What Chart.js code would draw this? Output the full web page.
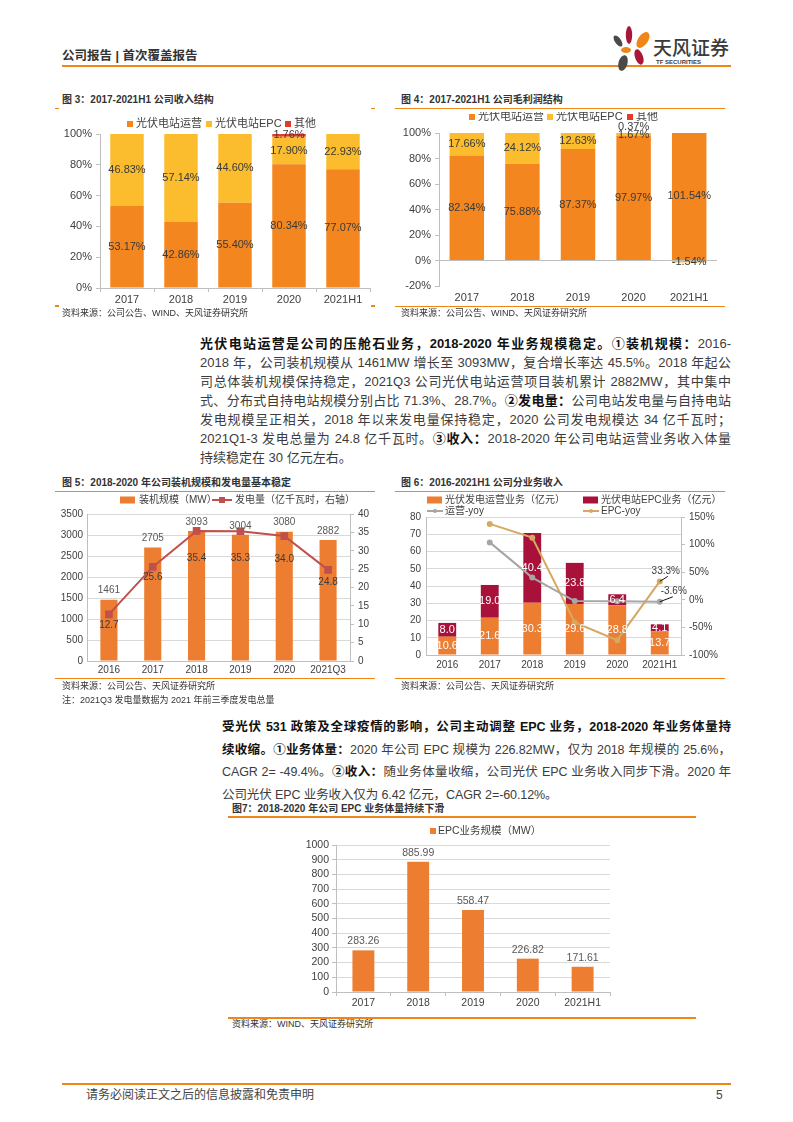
<!DOCTYPE html>
<html><head><meta charset="utf-8">
<script src="https://cdn.jsdelivr.net/npm/chart.js@4.4.1/dist/chart.umd.min.js"></script>
<style>
body{margin:0;background:#fff;width:793px;height:1122px;position:relative;overflow:hidden;font-family:"Liberation Sans","Noto Sans CJK SC",sans-serif;color:#333;}
.hl{position:absolute;background:#F08519;height:2px;}
.hl1{position:absolute;background:#F08519;height:1.5px;}
.ttl{position:absolute;font-size:10px;font-weight:bold;color:#333;white-space:nowrap;line-height:12px;}
.src{position:absolute;font-size:9px;color:#333;white-space:nowrap;line-height:11px;}
.ln{position:absolute;font-size:13px;line-height:19px;height:19px;text-align:justify;text-align-last:justify;color:#3c3c3c;overflow:visible;}
.ln2{font-size:12.5px;letter-spacing:-0.1px;}
.ln b{color:#111;}
canvas{position:absolute;}
</style></head>
<body>
<!-- header -->
<div style="position:absolute;left:62px;top:48px;font-size:12.5px;font-weight:bold;color:#333;line-height:16px;">公司报告 | 首次覆盖报告</div>
<div class="hl" style="left:62px;top:65px;width:669px;"></div>
<svg style="position:absolute;left:605px;top:20px" width="60" height="55" viewBox="0 0 60 55">
  <ellipse cx="24" cy="15" rx="3.2" ry="9" fill="#A8163A"/>
  <ellipse cx="38" cy="20" rx="5" ry="9" fill="#F08519" transform="rotate(35 38 20)"/>
  <ellipse cx="13" cy="21" rx="3" ry="6.5" fill="#4a4a4a" transform="rotate(-35 13 21)"/>
  <ellipse cx="21" cy="30" rx="5" ry="3" fill="#F08519"/>
  <ellipse cx="34" cy="37" rx="4" ry="8" fill="#A8163A" transform="rotate(-20 34 37)"/>
  <ellipse cx="18" cy="43" rx="4.5" ry="8" fill="#4a4a4a" transform="rotate(15 18 43)"/>
</svg>
<div style="position:absolute;left:653px;top:36px;font-size:19px;color:#3a3a3a;line-height:22px;font-family:'Noto Sans CJK SC';font-weight:500;">天风证券</div>
<div style="position:absolute;left:656px;top:58px;font-size:6px;font-weight:bold;color:#3a3a3a;line-height:8px;">TF SECURITIES</div>

<!-- chart 3 / 4 titles -->
<div class="ttl" style="left:62px;top:94px;">图 3：2017-2021H1 公司收入结构</div>
<div class="hl1" style="left:55px;top:107.5px;width:4px;"></div>
<div class="hl1" style="left:371px;top:107.5px;width:4px;"></div>
<div class="ttl" style="left:401px;top:94px;">图 4：2017-2021H1 公司毛利润结构</div>
<div class="hl1" style="left:395px;top:107.5px;width:330px;"></div>

<canvas id="c3" width="325" height="200" style="left:55px;top:112px;"></canvas>
<canvas id="c4" width="335" height="200" style="left:395px;top:112px;"></canvas>

<div class="hl1" style="left:55px;top:305px;width:4px;"></div>
<div class="hl1" style="left:371px;top:305px;width:4px;"></div>
<div class="hl1" style="left:395px;top:305.5px;width:330px;"></div>
<div class="src" style="left:62px;top:308px;">资料来源：公司公告、WIND、天风证券研究所</div>
<div class="src" style="left:401px;top:308px;">资料来源：公司公告、WIND、天风证券研究所</div>

<!-- paragraph 1 -->
<div class="ln" style="left:200px;top:333.5px;width:531px;"><b>光伏电站运营是公司的压舱石业务，2018-2020 年业务规模稳定。①装机规模：</b>2016-</div>
<div class="ln" style="left:200px;top:352.5px;width:531px;">2018 年，公司装机规模从 1461MW 增长至 3093MW，复合增长率达 45.5%。2018 年起公</div>
<div class="ln" style="left:200px;top:371.5px;width:531px;">司总体装机规模保持稳定，2021Q3 公司光伏电站运营项目装机累计 2882MW，其中集中</div>
<div class="ln" style="left:200px;top:390.5px;width:531px;">式、分布式自持电站规模分别占比 71.3%、28.7%。<b>②发电量：</b>公司电站发电量与自持电站</div>
<div class="ln" style="left:200px;top:409.5px;width:531px;">发电规模呈正相关，2018 年以来发电量保持稳定，2020 公司发电规模达 34 亿千瓦时；</div>
<div class="ln" style="left:200px;top:428.5px;width:531px;">2021Q1-3 发电总量为 24.8 亿千瓦时。<b>③收入：</b>2018-2020 年公司电站运营业务收入体量</div>
<div class="ln" style="left:200px;top:447.5px;width:531px;text-align-last:left;">持续稳定在 30 亿元左右。</div>

<!-- chart 5 / 6 -->
<div class="ttl" style="left:62px;top:477px;">图 5：2018-2020 年公司装机规模和发电量基本稳定</div>
<div class="hl1" style="left:55px;top:490.5px;width:320px;"></div>
<div class="ttl" style="left:401px;top:477px;">图 6：2016-2021H1 公司分业务收入</div>
<div class="hl1" style="left:395px;top:490.5px;width:330px;"></div>
<canvas id="c5" width="325" height="190" style="left:55px;top:492px;"></canvas>
<canvas id="c6" width="340" height="190" style="left:395px;top:492px;"></canvas>
<div class="hl1" style="left:55px;top:677.5px;width:320px;"></div>
<div class="hl1" style="left:395px;top:677.5px;width:330px;"></div>
<div class="src" style="left:62px;top:681px;">资料来源：公司公告、天风证券研究所</div>
<div class="src" style="left:62px;top:695px;">注：2021Q3 发电量数据为 2021 年前三季度发电总量</div>
<div class="src" style="left:401px;top:681px;">资料来源：公司公告、天风证券研究所</div>

<!-- paragraph 2 -->
<div class="ln ln2" style="left:222px;top:717.5px;width:509px;"><b>受光伏 531 政策及全球疫情的影响，公司主动调整 EPC 业务，2018-2020 年业务体量持</b></div>
<div class="ln ln2" style="left:222px;top:740.5px;width:509px;"><b>续收缩。①业务体量：</b>2020 年公司 EPC 规模为 226.82MW，仅为 2018 年规模的 25.6%，</div>
<div class="ln ln2" style="left:222px;top:762.5px;width:509px;">CAGR 2= -49.4%。<b>②收入：</b>随业务体量收缩，公司光伏 EPC 业务收入同步下滑。2020 年</div>
<div class="ln ln2" style="left:222px;top:785.5px;width:509px;text-align-last:left;">公司光伏 EPC 业务收入仅为 6.42 亿元，CAGR 2=-60.12%。</div>

<!-- chart 7 -->
<div class="ttl" style="left:232px;top:803px;">图7：2018-2020 年公司 EPC 业务体量持续下滑</div>
<div class="hl1" style="left:228px;top:816px;width:468px;"></div>
<canvas id="c7" width="400" height="195" style="left:228px;top:822px;"></canvas>
<div class="hl1" style="left:228px;top:1017px;width:468px;"></div>
<div class="src" style="left:232px;top:1019px;">资料来源：WIND、天风证券研究所</div>

<!-- footer -->
<div class="hl" style="left:62px;top:1083px;width:669px;"></div>
<div style="position:absolute;left:86px;top:1088px;font-size:12px;color:#444;line-height:15px;">请务必阅读正文之后的信息披露和免责申明</div>
<div style="position:absolute;left:716px;top:1088px;font-size:12px;color:#444;line-height:15px;">5</div>

<script>
// ---------------- data ----------------
const cats3 = ['2017','2018','2019','2020','2021H1'];
const rev_ops = [53.17, 42.86, 55.40, 80.34, 77.07];
const rev_epc = [46.83, 57.14, 44.60, 17.90, 22.93];
const rev_other = [0, 0, 0, 1.76, 0];

const cats4 = ['2017','2018','2019','2020','2021H1'];
const gp_ops = [82.34, 75.88, 87.37, 97.97, 101.54];
const gp_epc = [17.66, 24.12, 12.63, 1.67, -1.54];
const gp_other = [0, 0, 0, 0.37, 0];

const cats5 = ['2016','2017','2018','2019','2020','2021Q3'];
const capacity_mw = [1461, 2705, 3093, 3004, 3080, 2882];
const generation = [12.7, 25.6, 35.4, 35.3, 34.0, 24.8];

const cats6 = ['2016','2017','2018','2019','2020','2021H1'];
const seg_ops = [10.6, 21.6, 30.3, 29.6, 28.8, 13.7];
const seg_epc = [8.0, 19.0, 40.4, 23.8, 6.4, 4.1];
const ops_yoy = [null, 104.0, 40.3, -2.3, -2.7, -3.6];
const epc_yoy = [null, 137.5, 112.6, -41.1, -73.1, 33.3];

const cats7 = ['2017','2018','2019','2020','2021H1'];
const epc_mw = [283.26, 885.99, 558.47, 226.82, 171.61];

// ---------------- setup ----------------
const FF = '"Liberation Sans","Noto Sans CJK SC",sans-serif';
Chart.defaults.font.family = FF;
Chart.defaults.color = '#404040';
Chart.defaults.animation = false;

const labelPlugin = {
  id: 'valueLabels',
  afterDatasetsDraw(chart, args, opts) {
    const ctx = chart.ctx;
    (opts.items || []).forEach(it => {
      const meta = chart.getDatasetMeta(it.ds);
      const data = chart.data.datasets[it.ds].data;
      meta.data.forEach((el, i) => {
        const v = data[i];
        if (v === null || v === undefined || v === 0) return;
        let y;
        if (it.pos === 'center') y = (el.y + el.base) / 2;
        else if (it.pos === 'above') y = el.y - (it.offset || 8);
        else y = el.y + (Array.isArray(it.offset) ? it.offset[i] : it.offset);
        ctx.save();
        ctx.font = it.font; ctx.fillStyle = it.color;
        ctx.textAlign = 'center'; ctx.textBaseline = 'middle';
        ctx.fillText(it.fmt(v), el.x, y);
        ctx.restore();
      });
    });
    (opts.callouts || []).forEach(c => {
      const el = chart.getDatasetMeta(c.ds).data[c.index];
      const v = chart.data.datasets[c.ds].data[c.index];
      ctx.save();
      ctx.strokeStyle = '#111'; ctx.lineWidth = 1;
      ctx.beginPath(); ctx.moveTo(el.x, el.y); ctx.lineTo(el.x + c.lx, el.y + c.ly); ctx.stroke();
      ctx.font = c.font; ctx.fillStyle = '#404040';
      ctx.textAlign = 'center'; ctx.textBaseline = 'middle';
      ctx.fillText(c.fmt(v), el.x + c.tx, el.y + c.ty);
      ctx.restore();
    });
  }
};

const legendPlugin = {
  id: 'ownLegend',
  afterDraw(chart, args, opts) {
    const ctx = chart.ctx;
    (opts.items || []).forEach(it => {
      const ds = chart.data.datasets[it.ds];
      ctx.save();
      if (it.kind === 'rect') {
        ctx.fillStyle = ds.backgroundColor;
        ctx.fillRect(it.x, it.y - it.h / 2, it.w, it.h);
      } else {
        ctx.strokeStyle = ds.borderColor; ctx.lineWidth = 2;
        ctx.beginPath(); ctx.moveTo(it.x, it.y); ctx.lineTo(it.x + it.w, it.y); ctx.stroke();
        ctx.fillStyle = ds.borderColor;
        const m = it.m || 2.5, cx = it.x + it.w / 2;
        if (it.shape === 'rect') ctx.fillRect(cx - m, it.y - m, 2 * m, 2 * m);
        else { ctx.beginPath(); ctx.arc(cx, it.y, m, 0, Math.PI * 2); ctx.fill(); }
      }
      ctx.font = opts.font; ctx.fillStyle = opts.color || '#404040';
      ctx.textAlign = 'left'; ctx.textBaseline = 'middle';
      ctx.fillText(ds.label, it.tx, it.y);
      ctx.restore();
    });
  }
};

const pct2 = v => v.toFixed(2) + '%';
const fix1 = v => v.toFixed(1);
const plain = v => String(v);
const GRID = '#D9D9D9', AX = '#BFBFBF';

function base(padding) {
  return { responsive: false, devicePixelRatio: 1, animation: false, layout: { padding },
    plugins: { legend: { display: false }, tooltip: { enabled: false } } };
}

// ---------------- chart 3 ----------------
(function () {
  const o = base({ top: 22, right: 10, left: 0, bottom: 0 });
  o.datasets = { bar: { categoryPercentage: 1, barPercentage: 0.62 } };
  o.scales = {
    x: { stacked: true, grid: { display: true, drawOnChartArea: false, tickLength: 4, color: AX }, border: { color: AX },
         ticks: { padding: 1, font: { size: 11 }, color: '#404040' }, afterFit(s) { s.height = 24; } },
    y: { stacked: true, min: 0, max: 100, grid: { drawOnChartArea: false, tickLength: 4, color: AX }, border: { color: AX },
         ticks: { stepSize: 20, autoSkip: false, padding: 4, font: { size: 11 }, color: '#404040', callback: v => v + '%' }, afterFit(s) { s.width = 45; } }
  };
  o.plugins.ownLegend = { font: '11px ' + FF, items: [
    { ds: 0, kind: 'rect', x: 72, y: 12, w: 6, h: 6, tx: 81 },
    { ds: 1, kind: 'rect', x: 151, y: 12, w: 6, h: 6, tx: 160 },
    { ds: 2, kind: 'rect', x: 230, y: 12, w: 6, h: 6, tx: 239 } ] };
  const lf = '11px ' + FF;
  o.plugins.valueLabels = { items: [
    { ds: 0, pos: 'center', font: lf, color: '#3a3a3a', fmt: pct2 },
    { ds: 1, pos: 'center', font: lf, color: '#3a3a3a', fmt: pct2 },
    { ds: 2, pos: 'center', font: lf, color: '#3a3a3a', fmt: pct2 } ] };
  new Chart(document.getElementById('c3'), {
    type: 'bar',
    data: { labels: cats3, datasets: [
      { label: '光伏电站运营', data: rev_ops, backgroundColor: '#F3861F' },
      { label: '光伏电站EPC', data: rev_epc, backgroundColor: '#FBBD2E' },
      { label: '其他', data: rev_other, backgroundColor: '#E03B2B' } ] },
    options: o, plugins: [legendPlugin, labelPlugin]
  });
})();

// ---------------- chart 4 ----------------
(function () {
  const o = base({ top: 21, right: 13, left: 0, bottom: 0 });
  o.datasets = { bar: { categoryPercentage: 1, barPercentage: 0.62 } };
  o.scales = {
    x: { stacked: true, grid: { display: false, drawTicks: false }, border: { display: false },
         ticks: { padding: 5, font: { size: 11 }, color: '#404040' }, afterFit(s) { s.height = 26; } },
    y: { stacked: true, min: -20, max: 100,
         grid: { drawOnChartArea: true, tickLength: 4, tickColor: AX, color: c => c.tick && c.tick.value === 0 ? AX : 'rgba(0,0,0,0)' },
         border: { color: AX },
         ticks: { stepSize: 20, autoSkip: false, padding: 4, font: { size: 11 }, color: '#404040', callback: v => v + '%' }, afterFit(s) { s.width = 44; } }
  };
  o.plugins.ownLegend = { font: '11px ' + FF, items: [
    { ds: 0, kind: 'rect', x: 74, y: 5, w: 6, h: 6, tx: 83 },
    { ds: 1, kind: 'rect', x: 152, y: 5, w: 6, h: 6, tx: 161 },
    { ds: 2, kind: 'rect', x: 232, y: 5, w: 6, h: 6, tx: 241 } ] };
  const lf = '11px ' + FF;
  o.plugins.valueLabels = { items: [
    { ds: 0, pos: 'center', font: lf, color: '#3a3a3a', fmt: pct2 },
    { ds: 1, pos: 'center', font: lf, color: '#3a3a3a', fmt: pct2 },
    { ds: 2, pos: 'above', offset: 6, font: lf, color: '#3a3a3a', fmt: pct2 } ] };
  new Chart(document.getElementById('c4'), {
    type: 'bar',
    data: { labels: cats4, datasets: [
      { label: '光伏电站运营', data: gp_ops, backgroundColor: '#F3861F' },
      { label: '光伏电站EPC', data: gp_epc, backgroundColor: '#FBBD2E' },
      { label: '其他', data: gp_other, backgroundColor: '#E03B2B' } ] },
    options: o, plugins: [legendPlugin, labelPlugin]
  });
})();

// ---------------- chart 5 ----------------
(function () {
  const o = base({ top: 22, right: 0, left: 0, bottom: 0 });
  o.scales = {
    x: { grid: { display: false, drawTicks: false }, border: { color: AX },
         ticks: { padding: 3, font: { size: 10 }, color: '#404040' }, afterFit(s) { s.height = 21; } },
    y: { min: 0, max: 3500, grid: { color: GRID, drawTicks: false }, border: { color: AX },
         ticks: { stepSize: 500, autoSkip: false, padding: 4, font: { size: 10 }, color: '#404040', callback: plain }, afterFit(s) { s.width = 32; } },
    y2: { position: 'right', min: 0, max: 40, grid: { drawOnChartArea: false, tickLength: 4, color: AX }, border: { color: AX },
         ticks: { stepSize: 5, autoSkip: false, padding: 4, font: { size: 10 }, color: '#404040', callback: plain }, afterFit(s) { s.width = 30; } }
  };
  o.plugins.ownLegend = { font: '10px ' + FF, items: [
    { ds: 0, kind: 'rect', x: 65, y: 8, w: 15, h: 7, tx: 84 },
    { ds: 1, kind: 'line', shape: 'rect', m: 3, x: 157, y: 8, w: 20, tx: 180 } ] };
  const lf = '10px ' + FF;
  o.plugins.valueLabels = { items: [
    { ds: 0, pos: 'above', offset: 9, font: lf, color: '#595959', fmt: plain },
    { ds: 1, pos: 'below', offset: [11, 10, 27, 27, 23, 12], font: lf, color: '#3a3a3a', fmt: fix1 } ] };
  new Chart(document.getElementById('c5'), {
    type: 'bar',
    data: { labels: cats5, datasets: [
      { type: 'bar', label: '装机规模（MW）', data: capacity_mw, yAxisID: 'y', backgroundColor: '#ED7D31',
        categoryPercentage: 1, barPercentage: 0.39, order: 2 },
      { type: 'line', label: '发电量（亿千瓦时，右轴）', data: generation, yAxisID: 'y2', borderColor: '#C0504D',
        backgroundColor: '#C0504D', borderWidth: 2, pointStyle: 'rect', pointRadius: 4, pointBackgroundColor: '#C0504D',
        pointBorderColor: '#C0504D', order: 1 } ] },
    options: o, plugins: [legendPlugin, labelPlugin]
  });
})();

// ---------------- chart 6 ----------------
(function () {
  const o = base({ top: 25, right: 0, left: 0, bottom: 0 });
  o.scales = {
    x: { stacked: true, grid: { display: false, drawTicks: false }, border: { color: AX },
         ticks: { padding: 4, font: { size: 10 }, color: '#404040' }, afterFit(s) { s.height = 27; } },
    y: { stacked: true, min: 0, max: 80, grid: { color: GRID, drawTicks: false }, border: { color: AX },
         ticks: { stepSize: 10, autoSkip: false, padding: 5, font: { size: 10 }, color: '#404040', callback: plain }, afterFit(s) { s.width = 31; } },
    y2: { position: 'right', min: -100, max: 150, grid: { drawOnChartArea: false, tickLength: 4, color: AX }, border: { color: AX },
         ticks: { stepSize: 50, autoSkip: false, padding: 4, font: { size: 10 }, color: '#404040', callback: v => v + '%' }, afterFit(s) { s.width = 54; } }
  };
  o.plugins.ownLegend = { font: '10px ' + FF, items: [
    { ds: 0, kind: 'rect', x: 32, y: 8, w: 15, h: 7, tx: 50 },
    { ds: 1, kind: 'rect', x: 188, y: 8, w: 15, h: 7, tx: 206 },
    { ds: 2, kind: 'line', m: 2, x: 32, y: 19, w: 16, tx: 50 },
    { ds: 3, kind: 'line', m: 2, x: 188, y: 19, w: 16, tx: 206 } ] };
  const lf = '11px ' + FF;
  o.plugins.valueLabels = { items: [
    { ds: 0, pos: 'center', font: lf, color: '#ffffff', fmt: fix1 },
    { ds: 1, pos: 'center', font: lf, color: '#ffffff', fmt: fix1 } ],
    callouts: [
      { ds: 3, index: 5, lx: 8, ly: -5, tx: 6, ty: -10, font: '10px ' + FF, fmt: v => v.toFixed(1) + '%' },
      { ds: 2, index: 5, lx: 13, ly: -5, tx: 14, ty: -11, font: '10px ' + FF, fmt: v => v.toFixed(1) + '%' } ] };
  new Chart(document.getElementById('c6'), {
    type: 'bar',
    data: { labels: cats6, datasets: [
      { type: 'bar', label: '光伏发电运营业务（亿元）', data: seg_ops, yAxisID: 'y', backgroundColor: '#ED7D31',
        categoryPercentage: 1, barPercentage: 0.42, stack: 's', order: 3 },
      { type: 'bar', label: '光伏电站EPC业务（亿元）', data: seg_epc, yAxisID: 'y', backgroundColor: '#A8123A',
        categoryPercentage: 1, barPercentage: 0.42, stack: 's', order: 3 },
      { type: 'line', label: '运营-yoy', data: ops_yoy, yAxisID: 'y2', borderColor: '#A6A6A6', backgroundColor: '#A6A6A6',
        borderWidth: 2, pointRadius: 2, pointBackgroundColor: '#A6A6A6', pointBorderColor: '#A6A6A6', order: 1 },
      { type: 'line', label: 'EPC-yoy', data: epc_yoy, yAxisID: 'y2', borderColor: '#D6A862', backgroundColor: '#D6A862',
        borderWidth: 2, pointRadius: 2, pointBackgroundColor: '#D6A862', pointBorderColor: '#D6A862', order: 2 } ] },
    options: o, plugins: [legendPlugin, labelPlugin]
  });
})();

// ---------------- chart 7 ----------------
(function () {
  const o = base({ top: 23, right: 18, left: 0, bottom: 0 });
  o.scales = {
    x: { grid: { display: true, drawOnChartArea: false, tickLength: 4, color: AX }, border: { color: AX },
         ticks: { padding: 1, font: { size: 10.5 }, color: '#404040' }, afterFit(s) { s.height = 25; } },
    y: { min: 0, max: 1000, grid: { color: GRID, tickLength: 4, tickColor: AX }, border: { color: AX },
         ticks: { stepSize: 100, autoSkip: false, padding: 3, font: { size: 10.5 }, color: '#404040', callback: plain }, afterFit(s) { s.width = 108; } }
  };
  o.plugins.ownLegend = { font: '10.5px ' + FF, items: [
    { ds: 0, kind: 'rect', x: 202, y: 9, w: 6, h: 6, tx: 210 } ] };
  o.plugins.valueLabels = { items: [
    { ds: 0, pos: 'above', offset: 9, font: '10.5px ' + FF, color: '#595959', fmt: v => v.toFixed(2) } ] };
  new Chart(document.getElementById('c7'), {
    type: 'bar',
    data: { labels: cats7, datasets: [
      { label: 'EPC业务规模（MW）', data: epc_mw, backgroundColor: '#ED7D31', categoryPercentage: 1, barPercentage: 0.4 } ] },
    options: o, plugins: [legendPlugin, labelPlugin]
  });
})();
</script>
</body></html>
